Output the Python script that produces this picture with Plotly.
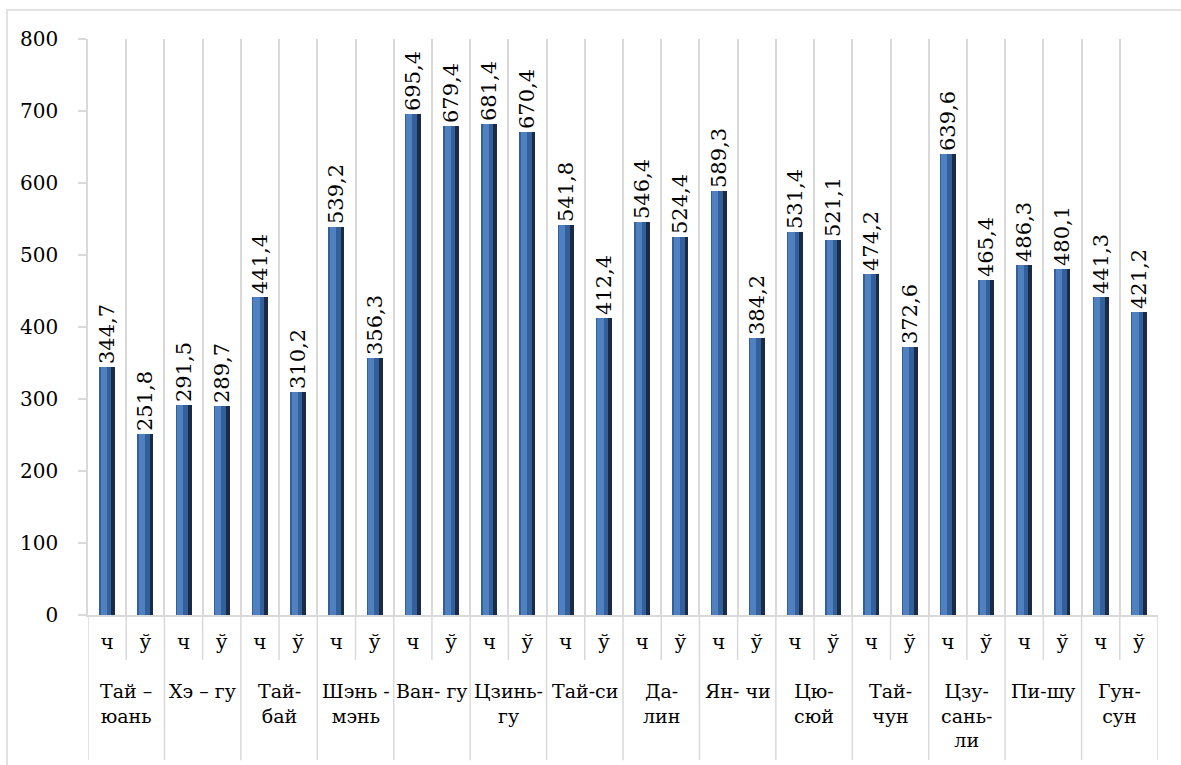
import plotly.graph_objects as go

groups = ["Тай –<br>юань", "Хэ – гу", "Тай-<br>бай", "Шэнь -<br>мэнь", "Ван- гу",
          "Цзинь-<br>гу", "Тай-си", "Да-<br>лин", "Ян- чи", "Цю-<br>сюй",
          "Тай-<br>чун", "Цзу-<br>сань-<br>ли", "Пи-шу", "Гун-<br>сун"]
sub_labels = ["ч", "ў"]
values_ch = [344.7, 291.5, 441.4, 539.2, 695.4, 681.4, 541.8, 546.4, 589.3, 531.4, 474.2, 639.6, 486.3, 441.3]
values_u = [251.8, 289.7, 310.2, 356.3, 679.4, 670.4, 412.4, 524.4, 384.2, 521.1, 372.6, 465.4, 480.1, 421.2]
y_ticks = list(range(0, 801, 100))

FONT = "DejaVu Serif, serif"

# interleave
vals = []
ticktext = []
for a, b in zip(values_ch, values_u):
    vals += [a, b]
    ticktext += sub_labels
xs = list(range(len(vals)))
texts = [f"{v:.1f}".replace(".", ",") for v in vals]

fig = go.Figure()
BW = 0.42
# layered bars to mimic cylinder shading
fig.add_trace(go.Bar(x=xs, y=vals, width=BW, offset=-BW / 2,
                     marker=dict(color="#1B2B45", line=dict(width=0)),
                     text=texts, textposition="outside", textangle=-90,
                     constraintext="none", cliponaxis=False,
                     textfont=dict(family=FONT, size=21, color="black"),
                     hoverinfo="skip", showlegend=False))
fig.add_trace(go.Bar(x=xs, y=vals, width=0.32, offset=-BW / 2,
                     marker=dict(color="#33609A", line=dict(width=0)),
                     hoverinfo="skip", showlegend=False))
fig.add_trace(go.Bar(x=xs, y=vals, width=0.16, offset=-BW / 2 + 0.04,
                     marker=dict(color="#4F80BF", line=dict(width=0)),
                     hoverinfo="skip", showlegend=False))

n = len(vals)
shapes = []
# separators below axis
for i in range(n + 1):
    pos = i - 0.5
    is_group = (i % 2 == 0)
    shapes.append(dict(type="line", xref="x", yref="paper", x0=pos, x1=pos,
                       y0=0, y1=-0.252 if is_group else -0.078,
                       line=dict(color="#D9D9D9", width=1.5)))
# outer border
shapes.append(dict(type="rect", xref="paper", yref="paper",
                   x0=-0.0757, x1=1.03, y0=-0.27, y1=1.0503,
                   line=dict(color="#D9D9D9", width=1.5), layer="below"))

annotations = []
for g, name in enumerate(groups):
    annotations.append(dict(x=2 * g + 0.5, y=-0.11, xref="x", yref="paper",
                            text=name, showarrow=False, yanchor="top",
                            xanchor="center",
                            font=dict(family=FONT, size=19, color="black")))

fig.update_layout(
    width=1181, height=765,
    margin=dict(l=88, r=23, t=39, b=150),
    paper_bgcolor="white", plot_bgcolor="white",
    barmode="overlay", bargap=0,
    shapes=shapes, annotations=annotations,
    font=dict(family=FONT, size=19, color="black"),
    xaxis=dict(range=[-0.5, n - 0.5], tickmode="array", tickvals=xs,
               ticktext=ticktext, showgrid=False, zeroline=False,
               showline=True, linecolor="#D9D9D9", linewidth=1.5,
               ticks="outside", ticklen=8, tickcolor="rgba(0,0,0,0)",
               tickfont=dict(family=FONT, size=20, color="black"),
               minor=dict(tickmode="array", tickvals=[i - 0.5 for i in range(n + 1)],
                          showgrid=True, gridcolor="#D9D9D9", gridwidth=1.5,
                          ticks="")),
    yaxis=dict(range=[0, 800], tickmode="array", tickvals=y_ticks,
               showgrid=False, zeroline=False, showline=True,
               linecolor="#D9D9D9", linewidth=1.5,
               ticks="outside", ticklen=8, tickcolor="#D9D9D9", tickwidth=1.5,
               ticklabelstandoff=16,
               tickfont=dict(family=FONT, size=20, color="black")),
)

fig.write_html("out.html")
